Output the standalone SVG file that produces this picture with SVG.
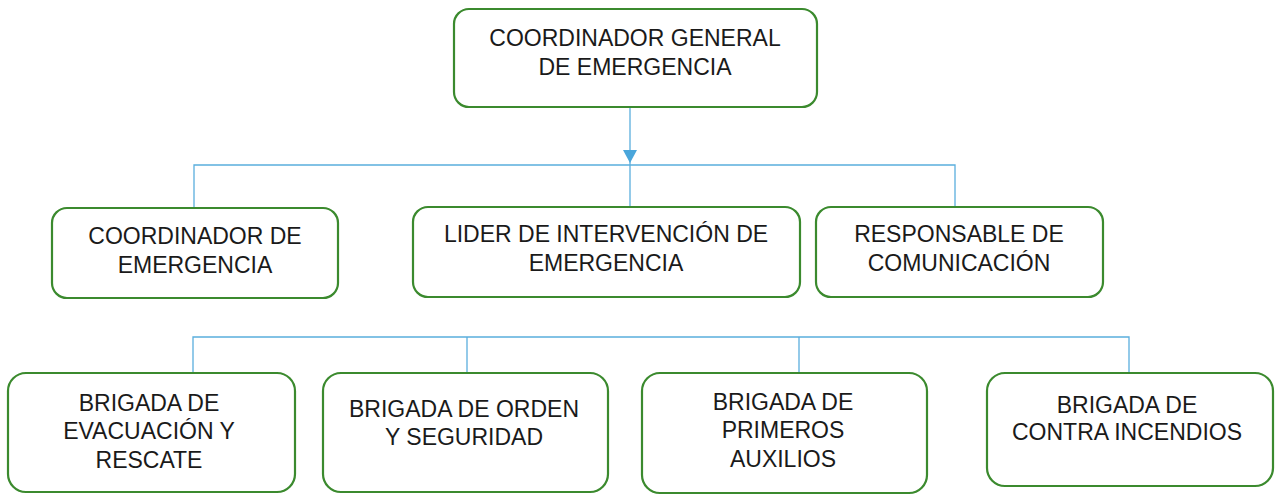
<svg xmlns="http://www.w3.org/2000/svg" width="1275" height="495" viewBox="0 0 1275 495">
<style>
.box{fill:#fff;stroke:#3b8a2e;stroke-width:2.2}
.t{font-family:"Liberation Sans",Arial,sans-serif;font-size:23px;fill:#1a1a1a;text-anchor:middle}
.c{fill:none;stroke:#5aaedd;stroke-width:1.3}
</style>
<defs>
<marker id="arr" markerWidth="13" markerHeight="14" refX="13" refY="7" orient="auto" markerUnits="userSpaceOnUse" viewBox="0 0 13 14">
<path d="M0,0 L13,7 L0,14 Z" fill="#4aa6db"/>
</marker>
</defs>
<rect width="1275" height="495" fill="#fff"/>
<g id="connectors">
<line class="c" x1="630" y1="107" x2="630" y2="163" marker-end="url(#arr)"/>
<line class="c" x1="630" y1="163" x2="630" y2="207"/>
<polyline class="c" points="194,208 194,165 955,165 955,207"/>
<polyline class="c" points="193,373 193,337 1129,337 1129,373"/>
<line class="c" x1="467" y1="337" x2="467" y2="373"/>
<line class="c" x1="799" y1="337" x2="799" y2="373"/>
<line class="c" x1="256" y1="400" x2="256" y2="436"/>
</g>
<g id="n-general">
<rect class="box" x="454" y="9" width="363" height="98" rx="15"/>
<text class="t" x="635" y="46">COORDINADOR GENERAL</text>
<text class="t" x="635" y="75">DE EMERGENCIA</text>
</g>
<g id="n-coordinador">
<rect class="box" x="52" y="208" width="286" height="90" rx="15"/>
<text class="t" x="195" y="244">COORDINADOR DE</text>
<text class="t" x="195" y="273">EMERGENCIA</text>
</g>
<g id="n-lider">
<rect class="box" x="413" y="207" width="387" height="90" rx="15"/>
<text class="t" x="606" y="242">LIDER DE INTERVENCIÓN DE</text>
<text class="t" x="606" y="271">EMERGENCIA</text>
</g>
<g id="n-responsable">
<rect class="box" x="816" y="207" width="287" height="90" rx="15"/>
<text class="t" x="959" y="242">RESPONSABLE DE</text>
<text class="t" x="959" y="271">COMUNICACIÓN</text>
</g>
<g id="n-evacuacion">
<rect class="box" x="8" y="373" width="287" height="119" rx="18"/>
<text class="t" x="149" y="411">BRIGADA DE</text>
<text class="t" x="149" y="439">EVACUACIÓN Y</text>
<text class="t" x="149" y="468">RESCATE</text>
</g>
<g id="n-orden">
<rect class="box" x="323" y="373" width="285" height="119" rx="18"/>
<text class="t" x="464" y="417">BRIGADA DE ORDEN</text>
<text class="t" x="464" y="445">Y SEGURIDAD</text>
</g>
<g id="n-primeros">
<rect class="box" x="642" y="373" width="285" height="120" rx="18"/>
<text class="t" x="783" y="410">BRIGADA DE</text>
<text class="t" x="783" y="438">PRIMEROS</text>
<text class="t" x="783" y="467">AUXILIOS</text>
</g>
<g id="n-incendios">
<rect class="box" x="987" y="373" width="286" height="113" rx="18"/>
<text class="t" x="1127" y="413">BRIGADA DE</text>
<text class="t" x="1127" y="440">CONTRA INCENDIOS</text>
</g>
</svg>
